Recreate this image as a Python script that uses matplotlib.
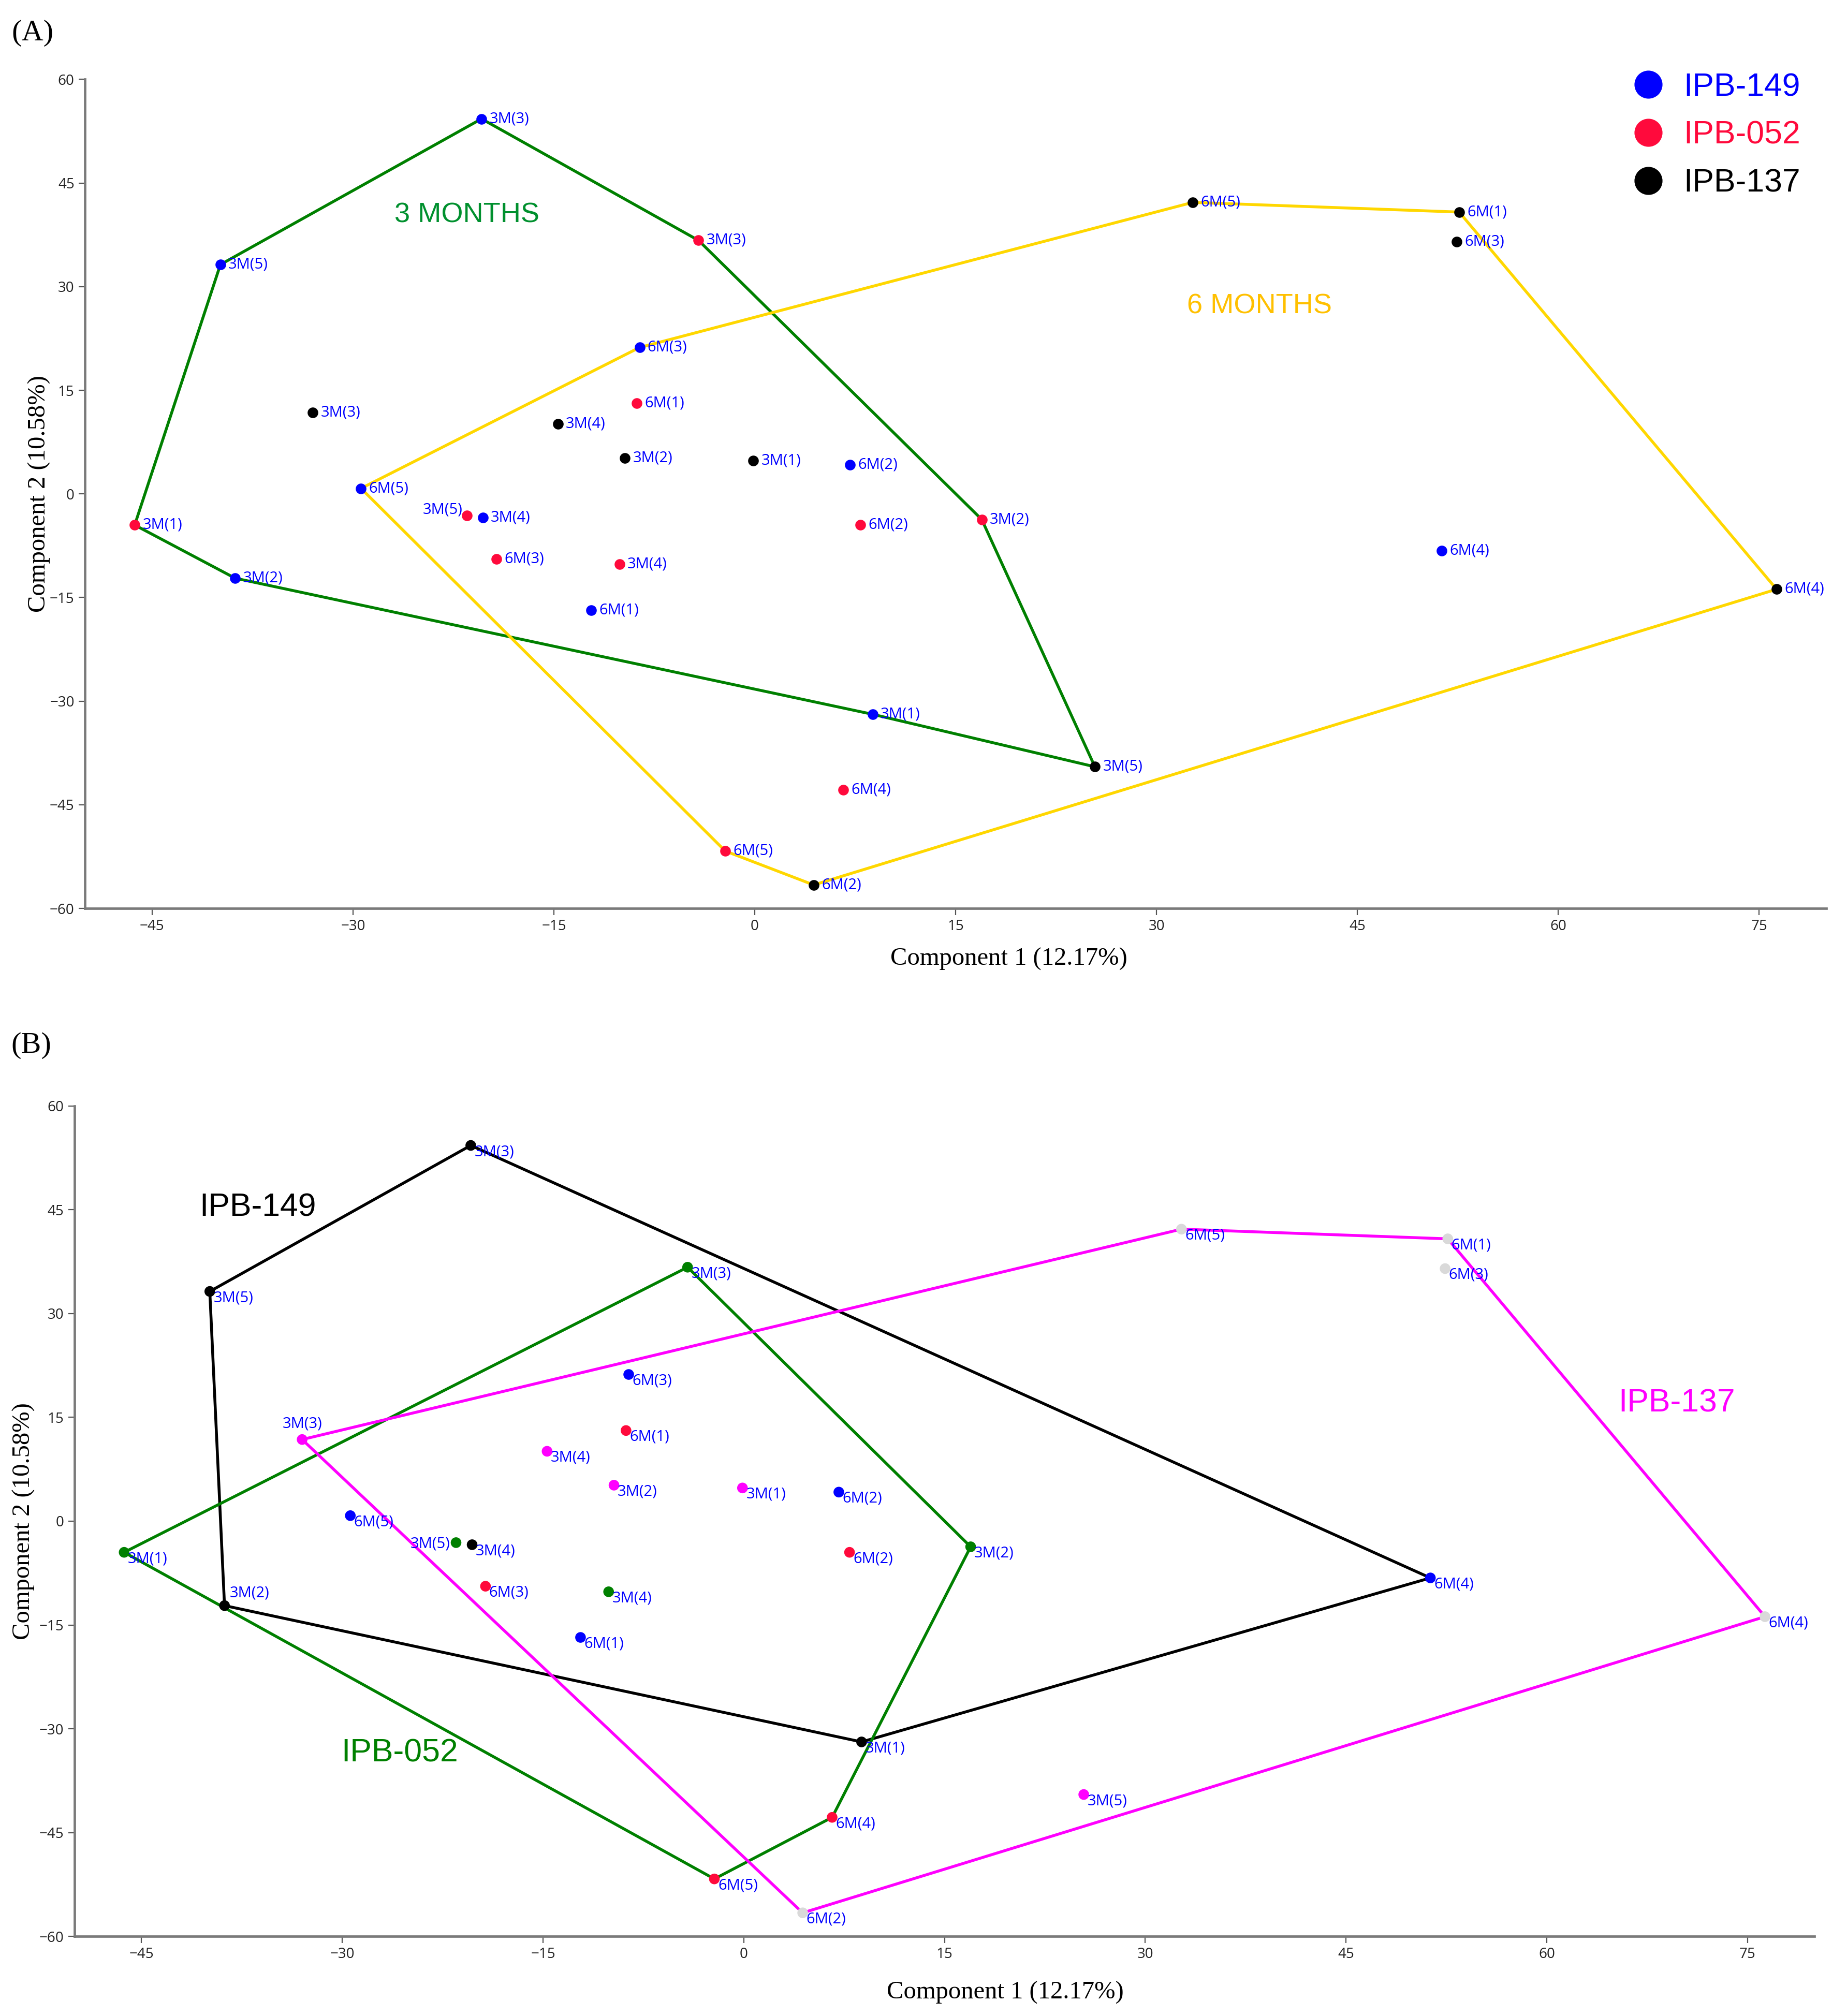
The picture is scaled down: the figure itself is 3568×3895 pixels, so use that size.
import matplotlib
matplotlib.use("Agg")
import matplotlib.pyplot as plt
from matplotlib.lines import Line2D

plt.rcParams['font.family'] = ['Open Sans', 'DejaVu Sans']

# PCA scores, same order for every strain
labels = ['3M(1)', '3M(2)', '3M(3)', '3M(4)', '3M(5)',
          '6M(1)', '6M(2)', '6M(3)', '6M(4)', '6M(5)']
x149 = [8.8, -38.8, -20.4, -20.3, -39.9, -12.2, 7.1, -8.6, 51.3, -29.4]
y149 = [-31.9, -12.2, 54.3, -3.4, 33.2, -16.8, 4.2, 21.2, -8.2, 0.8]
x052 = [-46.3, 16.95, -4.2, -10.1, -21.5, -8.8, 7.9, -19.3, 6.6, -2.2]
y052 = [-4.5, -3.7, 36.7, -10.2, -3.1, 13.1, -4.5, -9.4, -42.8, -51.7]
x137 = [-0.1, -9.7, -33.0, -14.7, 25.4, 52.6, 4.4, 52.4, 76.3, 32.7]
y137 = [4.8, 5.2, 11.8, 10.1, -39.5, 40.8, -56.6, 36.5, -13.8, 42.2]

strains = ['IPB-149', 'IPB-052', 'IPB-137']
xs = {'IPB-149': x149, 'IPB-052': x052, 'IPB-137': x137}
ys = {'IPB-149': y149, 'IPB-052': y052, 'IPB-137': y137}

# outlines (strain, index into labels)
hull_3m = [('IPB-149', 2), ('IPB-052', 2), ('IPB-052', 1), ('IPB-137', 4),
           ('IPB-149', 0), ('IPB-149', 1), ('IPB-052', 0), ('IPB-149', 4)]
hull_6m = [('IPB-149', 7), ('IPB-137', 9), ('IPB-137', 5), ('IPB-137', 8),
           ('IPB-137', 6), ('IPB-052', 9), ('IPB-149', 9)]
hull_strain = {'IPB-149': [2, 8, 0, 1, 4],
               'IPB-052': [0, 2, 1, 8, 9],
               'IPB-137': [2, 9, 5, 8, 6]}

col_a = {'IPB-149': '#0000FF', 'IPB-052': '#FF0A3C', 'IPB-137': '#000000'}
col_b3 = {'IPB-149': '#000000', 'IPB-052': '#008000', 'IPB-137': '#FF00FF'}
col_b6 = {'IPB-149': '#0000FF', 'IPB-052': '#FF0A3C', 'IPB-137': '#D9D9D9'}
hull_col_b = {'IPB-149': '#000000', 'IPB-052': '#008000', 'IPB-137': '#FF00FF'}

lab_col = '#0000FF'
lab_fs = 21
pt_size = 220
lw = 4.0

fig = plt.figure(figsize=(35.68, 38.95), dpi=100)
axA = fig.add_axes([0.0461, 0.5494, 0.9426, 0.4112])
axB = fig.add_axes([0.0404, 0.0395, 0.942, 0.4119])


def style_axes(ax, xlab_x, xlab_y, ylab_x):
    ax.set_xlim(-50, 80)
    ax.set_ylim(-60, 60)
    ax.set_xticks(range(-45, 76, 15))
    ax.set_yticks(range(-60, 61, 15))
    for s in ['top', 'right']:
        ax.spines[s].set_visible(False)
    for s in ['left', 'bottom']:
        ax.spines[s].set_color('#7a7a7a')
        ax.spines[s].set_linewidth(3.4)
    ax.tick_params(direction='out', length=9, width=1.6, color='#555555',
                   labelsize=20, labelcolor='#222222', pad=6)
    ax.set_xlabel('Component 1 (12.17%)', family='Liberation Serif', fontsize=35)
    ax.set_ylabel('Component 2 (10.58%)', family='Liberation Serif', fontsize=35)
    ax.xaxis.set_label_coords(xlab_x, xlab_y)
    ax.yaxis.set_label_coords(ylab_x, 0.5)


def outline(ax, pts, color):
    px = [xs[s][i] for s, i in pts] + [xs[pts[0][0]][pts[0][1]]]
    py = [ys[s][i] for s, i in pts] + [ys[pts[0][0]][pts[0][1]]]
    ax.plot(px, py, color=color, lw=lw, zorder=2, solid_joinstyle='round')


# ---------------- (A) ----------------
outline(axA, hull_3m, '#008000')
outline(axA, hull_6m, '#FFD700')
for s in strains:
    axA.scatter(xs[s], ys[s], s=pt_size, color=col_a[s], zorder=3, linewidths=0)
    for i, lab in enumerate(labels):
        if s == 'IPB-052' and lab == '3M(5)':
            off, ha = (-6, 8), 'right'
        else:
            off, ha = (11, 0), 'left'
        axA.annotate(lab, (xs[s][i], ys[s][i]), xytext=off, textcoords='offset points',
                     ha=ha, va='center', fontsize=lab_fs, color=lab_col, zorder=4)

axA.text(-21.5, 40.4, '3 MONTHS', color='#00902E', fontsize=39,
         family='Liberation Sans', ha='center', va='center')
axA.text(37.7, 27.2, '6 MONTHS', color='#FFC000', fontsize=39,
         family='Liberation Sans', ha='center', va='center')

handles = [Line2D([], [], ls='', marker='o', markersize=38, color=col_a[s]) for s in strains]
axA.legend(handles, strains, loc='upper right', bbox_to_anchor=(0.9853, 1.009),
           frameon=False, borderpad=0, borderaxespad=0, handlelength=1.0,
           handletextpad=0.6, labelspacing=0.54,
           prop={'family': 'Liberation Sans', 'size': 45},
           labelcolor=[col_a[s] for s in strains])
style_axes(axA, 0.5306, -0.047, -0.0198)

# ---------------- (B) ----------------
for s in strains:
    outline(axB, [(s, i) for i in hull_strain[s]], hull_col_b[s])
special_b = {('IPB-137', '3M(3)'): ((0, 22), 'center'),
             ('IPB-149', '3M(2)'): ((7, 17), 'left'),
             ('IPB-052', '3M(5)'): ((-8, -2), 'right')}
for s in strains:
    cols = [col_b3[s] if lab.startswith('3M') else col_b6[s] for lab in labels]
    axB.scatter(xs[s], ys[s], s=pt_size, color=cols, zorder=3, linewidths=0)
    for i, lab in enumerate(labels):
        off, ha = special_b.get((s, lab), ((5, -9), 'left'))
        axB.annotate(lab, (xs[s][i], ys[s][i]), xytext=off, textcoords='offset points',
                     ha=ha, va='center', fontsize=lab_fs, color=lab_col, zorder=4)

axB.text(-36.3, 45.3, 'IPB-149', color='#000000', fontsize=45,
         family='Liberation Sans', ha='center', va='center')
axB.text(-25.7, -33.5, 'IPB-052', color='#008000', fontsize=45,
         family='Liberation Sans', ha='center', va='center')
axB.text(69.7, 17.05, 'IPB-137', color='#FF00FF', fontsize=45,
         family='Liberation Sans', ha='center', va='center')
style_axes(axB, 0.535, -0.054, -0.0226)

fig.text(0.0064, 0.9836, '(A)', family='Liberation Serif', fontsize=42, ha='left', va='center')
fig.text(0.0059, 0.4814, '(B)', family='Liberation Serif', fontsize=42, ha='left', va='center')

fig.savefig('out.png', dpi=100, facecolor='white')
